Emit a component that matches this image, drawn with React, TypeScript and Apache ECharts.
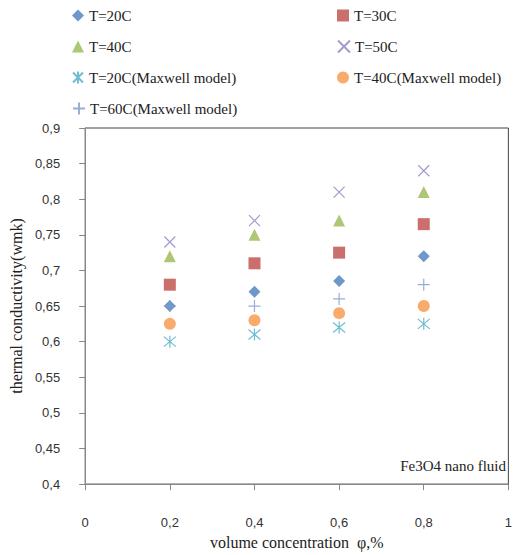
import React, { useEffect, useRef } from "react";
import * as echarts from "echarts";

const xValues = [0.2, 0.4, 0.6, 0.8];
const t20 = [0.65, 0.67, 0.685, 0.72];
const t30 = [0.68, 0.71, 0.725, 0.765];
const t40 = [0.72, 0.75, 0.77, 0.81];
const t50 = [0.74, 0.77, 0.81, 0.84];
const t20Maxwell = [0.6, 0.61, 0.62, 0.625];
const t40Maxwell = [0.625, 0.63, 0.64, 0.65];
const t60Maxwell = [0.65, 0.65, 0.66, 0.68];

const seriesNames = [
  "T=20C",
  "T=30C",
  "T=40C",
  "T=50C",
  "T=20C(Maxwell model)",
  "T=40C(Maxwell model)",
  "T=60C(Maxwell model)",
];

const X_PATH = "path://M0,0L10,10M10,0L0,10";
const AST_PATH = "path://M0,0L10,10M10,0L0,10M5,-1L5,11";
const PLUS_PATH = "path://M5,0L5,10M0,5L10,5";

const fontFamily = "'Liberation Serif', 'DejaVu Serif', serif";
const tickFont = "'Liberation Sans', 'DejaVu Sans', sans-serif";

export default function App() {
  const ref = useRef<HTMLDivElement>(null);
  useEffect(() => {
    if (!ref.current) return;
    const chart = echarts.init(ref.current, undefined, { renderer: "svg" });
    const pts = (arr: number[]) => xValues.map((x, i) => [x, arr[i]]);
    const filled = (name: string, data: number[], symbol: string, size: number, color: string) => ({
      name,
      type: "scatter",
      data: pts(data),
      symbol,
      symbolSize: size,
      itemStyle: { color },
    });
    const stroked = (name: string, data: number[], symbol: string, size: number, color: string) => ({
      name,
      type: "scatter",
      data: pts(data),
      symbol,
      symbolSize: size,
      itemStyle: { color: "rgba(0,0,0,0)", borderColor: color, borderWidth: 1.2 },
    });
    const legendPos = [
      { left: 72, top: 8 },
      { left: 337, top: 8 },
      { left: 72, top: 39 },
      { left: 337, top: 39 },
      { left: 72, top: 70 },
      { left: 337, top: 70 },
      { left: 72, top: 101 },
    ];
    chart.setOption({
      animation: false,
      textStyle: { fontFamily },
      grid: {
        left: 80,
        right: 4,
        top: 128,
        bottom: 67,
        show: true,
        borderColor: "#444",
        borderWidth: 1,
      },
      legend: legendPos.map((p, i) => ({
        data: [seriesNames[i]],
        left: p.left,
        top: p.top,
        itemWidth: 12,
        itemHeight: 12,
        itemGap: 7,
        padding: 0,
        textStyle: { fontFamily, fontSize: 15, color: "#222", padding: [0, 0, 0, 0] },
        selectedMode: false,
      })),
      xAxis: {
        type: "value",
        min: 0,
        max: 1,
        interval: 0.2,
        name: "volume concentration  φ,%",
        nameLocation: "middle",
        nameGap: 43,
        nameTextStyle: { fontFamily, fontSize: 16, color: "#222" },
        axisLine: { lineStyle: { color: "#888" } },
        axisTick: { show: true, length: 6, lineStyle: { color: "#888" } },
        axisLabel: {
          margin: 32,
          fontFamily: tickFont,
          fontSize: 13,
          color: "#333",
          formatter: (v: number) => String(+v.toFixed(1)).replace(".", ","),
        },
        splitLine: { show: false },
      },
      yAxis: {
        type: "value",
        min: 0.4,
        max: 0.9,
        interval: 0.05,
        name: "thermal conductivity(wmk)",
        nameLocation: "middle",
        nameGap: 51,
        nameTextStyle: { fontFamily, fontSize: 16, color: "#222" },
        axisLine: { show: true, lineStyle: { color: "#888" } },
        axisTick: { show: true, length: 6, lineStyle: { color: "#888" } },
        axisLabel: {
          margin: 25,
          fontFamily: tickFont,
          fontSize: 13,
          color: "#333",
          formatter: (v: number) => String(+v.toFixed(2)).replace(".", ","),
        },
        splitLine: { show: false },
      },
      graphic: [
        {
          type: "text",
          right: 9,
          top: 458,
          style: { text: "Fe3O4 nano fluid", fontFamily, fontSize: 15, fill: "#222" },
        },
      ],
      series: [
        filled(seriesNames[0], t20, "diamond", 12, "#4A7EBB"),
        filled(seriesNames[1], t30, "rect", 12, "#BE4B48"),
        filled(seriesNames[2], t40, "triangle", 12, "#98B954"),
        stroked(seriesNames[3], t50, X_PATH, 11, "#8C82BE"),
        stroked(seriesNames[4], t20Maxwell, AST_PATH, 12, "#4BACC6"),
        filled(seriesNames[5], t40Maxwell, "circle", 12, "#F79646"),
        stroked(seriesNames[6], t60Maxwell, PLUS_PATH, 12, "#7F9ACB"),
      ],
    });
    return () => chart.dispose();
  }, []);
  return (
    <div
      ref={ref}
      style={{ position: "absolute", left: 0, top: 0, width: 515, height: 555 }}
    />
  );
}
